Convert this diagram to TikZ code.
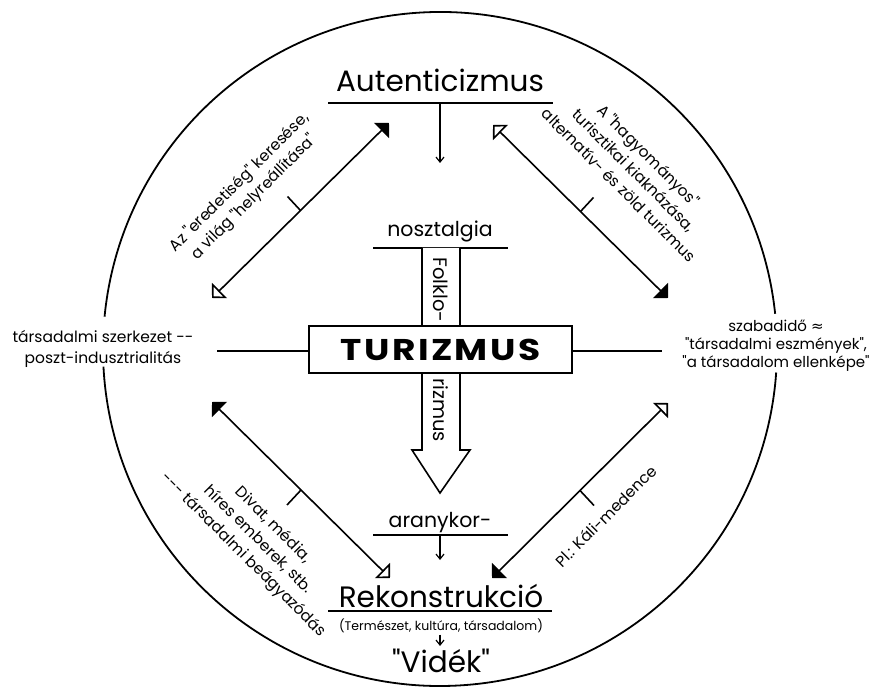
\documentclass[tikz,border=0pt]{standalone}
\usepackage{fontspec}
\setmainfont{Poppins}[Ligatures=TeXOff]
\newfontfamily\widefont{Poppins}[Ligatures=TeXOff, FakeStretch=1.2]
\newfontfamily\symfont{DejaVu Sans}
\usetikzlibrary{arrows.meta,calc}

\begin{document}
\begin{tikzpicture}[x=1pt, y=-1pt,
  bar/.style={line width=1.6pt},
  ring/.style={line width=1.8pt},
  o2f/.style={line width=1.6pt, arrows={{Triangle[open,angle=90:15pt]}-{Triangle[angle=90:15pt]}}},
  smallarr/.style={line width=1.2pt, -{Straight Barb[length=5pt,width=8pt]}},
  big/.style={font=\fontsize{29.5}{34}\selectfont, inner sep=0pt, anchor=base},
  mid/.style={font=\fontsize{20.5}{24}\selectfont, inner sep=0pt, anchor=base},
  vtext/.style={font=\fontsize{19.5}{22}\selectfont, inner sep=0pt, rotate=-90},
  note/.style={font=\fontsize{15.5}{21}\selectfont, inner sep=0pt, align=center},
  tiny/.style={font=\fontsize{12.5}{15}\selectfont, inner sep=0pt, anchor=base},
  box/.style={draw, fill=white, line width=1.6pt, minimum width=263pt, minimum height=47pt,
    font=\widefont\fontsize{30}{36}\selectfont\bfseries\addfontfeature{LetterSpace=8}},
]
  \useasboundingbox (0,0) rectangle (879,687);
  \coordinate (c) at (440,349);
  % circle with gaps for the side notes
  \draw[ring] (c) ++(-6:337) arc[start angle=-6, end angle=-174.5, radius=337];
  \draw[ring] (c) ++(-183:337) arc[start angle=-183, end angle=-356, radius=337];

  % top
  \node[big] (aut) at (440,92) {Autenticizmus};
  \draw[bar] (328,103) -- (553,103);
  \coordinate (aut-bar) at (440,103);
  \coordinate (aut-end) at (440,163);
  \draw[smallarr] (aut-bar) -- (aut-end);

  \node[mid] (nos) at (440,237) {nosztalgia};
  \draw[bar] (373,248) -- (508,248);

  % folklorizmus arrow and the centre box
  \draw[bar, fill=white] (422,248) -- (422,450) -- (412,450) -- (440,493) -- (470,450) -- (460,450) -- (460,248);
  \node[vtext] (folk) at (441,290) {Folklo-};
  \node[vtext] (riz) at (441,410) {rizmus};
  \node[box] (tur) at (440.5,349.5) {TURIZMUS};
  \coordinate (west-end) at (217,351);
  \coordinate (east-end) at (662,351);
  \draw[bar] (west-end) -- (tur.west |- west-end);
  \draw[bar] (tur.east |- east-end) -- (east-end);

  % side notes
  \node[note] (soc) at (103,349) {társadalmi szerkezet --\\poszt-indusztrialitás};
  \node[note, font=\fontsize{15}{18}\selectfont] (free) at (776,346)
    {szabadidő {\symfont ≈}\\"társadalmi eszmények",\\"a társadalom ellenképe"};

  % diagonal arrows
  \coordinate (tl-a) at (212,298);
  \coordinate (tl-b) at (389,123);
  \coordinate (tr-a) at (493,125);
  \coordinate (tr-b) at (668,298);
  \coordinate (bl-a) at (390,578);
  \coordinate (bl-b) at (212,402);
  \coordinate (br-a) at (668,403);
  \coordinate (br-b) at (492,578);
  \draw[o2f] (tl-a) -- (tl-b);
  \draw[o2f] (tr-a) -- (tr-b);
  \draw[o2f] (bl-a) -- (bl-b);
  \draw[o2f] (br-a) -- (br-b);
  \draw[bar] ($(tl-a)!0.5!(tl-b)$) -- ++(-13,-14);
  \draw[bar] ($(tr-a)!0.5!(tr-b)$) -- ++(13,-14);
  \draw[bar] ($(bl-a)!0.5!(bl-b)$) -- ++(-14,15);
  \draw[bar] ($(br-a)!0.5!(br-b)$) -- ++(14,15);

  \node[note, rotate=45] (tl-txt) at (247,190) {Az "eredetiség" keresése,\\a világ "helyreállítása"};
  \node[note, rotate=-45] (tr-txt) at (634,170) {A "hagyományos"\\turisztikai kiaknázása,\\alternatív- és zöld turizmus};
  \node[note, rotate=-45] (bl-txt) at (258,540) {Divat, média,\\híres emberek, stb.\\--- társadalmi beágyazódás};
  \node[note, rotate=45] (br-txt) at (606,516) {Pl.: Káli-medence};

  % bottom
  \node[mid] (arany) at (440,527) {aranykor-};
  \draw[bar] (373,535) -- (508,535);
  \coordinate (arany-bar) at (440,535);
  \coordinate (arany-end) at (440,560);
  \draw[smallarr] (arany-bar) -- (arany-end);

  \node[big] (rek) at (441,607) {Rekonstrukció};
  \draw[bar] (328,611) -- (552,611);
  \node[tiny] (ter) at (441,630) {(Természet, kultúra, társadalom)};
  \coordinate (ter-end) at (440,646);
  \draw[smallarr] (ter.south -| ter-end) ++(0,2) -- (ter-end);
  \node[big] (vid) at (441,672) {"Vidék"};
\end{tikzpicture}
\end{document}
